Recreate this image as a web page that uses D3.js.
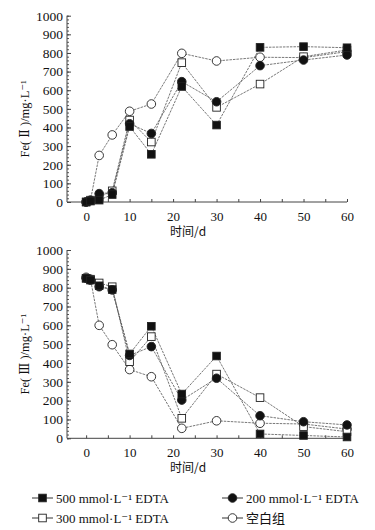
<!DOCTYPE html>
<html>
<head>
<meta charset="utf-8">
<script src="https://cdn.jsdelivr.net/npm/d3@7"></script>
<style>
  body { margin: 0; background: #fff; }
</style>
</head>
<body>
<div id="chart"></div>
<script>
// ----------------------
// Data
// ----------------------
const days = [0, 1, 3, 6, 10, 15, 22, 30, 40, 50, 60];
const seriesNames = ["500 mmol·L⁻¹ EDTA", "200 mmol·L⁻¹ EDTA", "300 mmol·L⁻¹ EDTA", "空白组"];
const seriesShapes = ["squareFilled", "circleFilled", "squareOpen", "circleOpen"];

// Fe(II)
const fe2_500 = [0, 5, 10, 40, 405, 256, 620, 413, 830, 834, 828];
const fe2_200 = [0, 8, 45, 50, 420, 368, 646, 538, 732, 762, 789];
const fe2_300 = [0, 10, 25, 60, 440, 322, 748, 508, 633, 780, 816];
const fe2_blank = [0, 10, 250, 360, 487, 526, 798, 757, 777, 775, 807];

// Fe(III)
const fe3_500 = [850, 840, 810, 790, 448, 595, 235, 437, 23, 15, 7];
const fe3_200 = [850, 840, 805, 788, 440, 487, 203, 319, 120, 88, 71];
const fe3_300 = [850, 845, 825, 805, 407, 540, 106, 341, 216, 62, 35];
const fe3_blank = [855, 845, 600, 497, 365, 327, 53, 93, 80, 76, 49];

const yTicks = [0, 100, 200, 300, 400, 500, 600, 700, 800, 900, 1000];

const SERIF = "'Liberation Serif', 'Times New Roman', 'DejaVu Serif', serif";
const CJK = "'Noto Sans CJK SC', sans-serif";

const W = 375, H = 530;
const svg = d3.select("#chart").append("svg")
    .attr("width", W).attr("height", H)
    .style("font-family", SERIF);

const xScale = d3.scaleLinear().domain([-4.4, 60]).range([67, 347]);

// ----------------------
// Marker helper
// ----------------------
function marker(g, shape, x, y) {
    if (shape === "squareFilled" || shape === "squareOpen") {
        g.append("rect")
            .attr("x", x - 3.8).attr("y", y - 3.8)
            .attr("width", 7.6).attr("height", 7.6)
            .attr("fill", shape === "squareFilled" ? "#111" : "#fff")
            .attr("stroke", "#222").attr("stroke-width", 0.9);
    } else {
        g.append("circle")
            .attr("cx", x).attr("cy", y).attr("r", 4.3)
            .attr("fill", shape === "circleFilled" ? "#111" : "#fff")
            .attr("stroke", "#222").attr("stroke-width", 0.9);
    }
}

// ----------------------
// Panel
// ----------------------
function panel(yTop, yBottom, seriesList, label) {
    const yScale = d3.scaleLinear().domain([0, 1000]).range([yBottom, yTop]);
    const g = svg.append("g");

    // axes
    const xAxis = g.append("g")
        .attr("transform", `translate(0,${yBottom})`)
        .call(d3.axisBottom(xScale)
            .tickValues(d3.range(0, 61, 5))
            .tickSize(-3)
            .tickFormat(d => d % 10 === 0 ? d : ""));
    xAxis.attr("font-family", null).attr("font-size", null);
    xAxis.select(".domain").attr("stroke", "#444").attr("d", `M67,0H347`);
    xAxis.selectAll(".tick line").attr("stroke", "#444");
    xAxis.selectAll("text").attr("fill", "#111").attr("dy", "1.2em")
        .style("font-family", SERIF).style("font-size", "13px");

    const yAxisMinor = g.append("g")
        .attr("transform", "translate(67,0)")
        .call(d3.axisLeft(yScale).tickValues(d3.range(0, 1001, 20)).tickSize(-2).tickFormat(""));
    yAxisMinor.select(".domain").remove();
    yAxisMinor.selectAll(".tick line").attr("stroke", "#555");

    const yAxis = g.append("g")
        .attr("transform", "translate(67,0)")
        .call(d3.axisLeft(yScale).tickValues(yTicks).tickSize(-4).tickPadding(4)
            .tickFormat(d3.format("d")));
    yAxis.attr("font-family", null).attr("font-size", null);
    yAxis.select(".domain").attr("stroke", "#444").attr("d", `M0,${yBottom}V${yTop}`);
    yAxis.selectAll(".tick line").attr("stroke", "#444");
    yAxis.selectAll("text").attr("fill", "#111")
        .style("font-family", SERIF).style("font-size", "13.5px");

    // y label
    g.append("text")
        .attr("transform", `translate(29,${(yTop + yBottom) / 2 + 10}) rotate(-90)`)
        .attr("text-anchor", "middle")
        .style("font-size", "12.5px")
        .style("font-family", SERIF)
        .attr("fill", "#111")
        .text(label);

    // x label
    g.append("text")
        .attr("x", 188).attr("y", yBottom + 34)
        .attr("text-anchor", "middle")
        .style("font-size", "12px")
        .style("font-family", CJK)
        .attr("fill", "#111")
        .text("时间/d");

    const line = d3.line()
        .x((d, i) => xScale(days[i]))
        .y(d => yScale(d));

    seriesList.forEach(vals => {
        g.append("path")
            .datum(vals)
            .attr("d", line)
            .attr("fill", "none")
            .attr("stroke", "#555")
            .attr("stroke-width", 0.8)
            .attr("stroke-dasharray", "2.5,1");
    });
    // draw markers last series first so filled ones sit on top
    [3, 2, 1, 0].forEach(k => {
        seriesList[k].forEach((v, i) => marker(g, seriesShapes[k], xScale(days[i]), yScale(v)));
    });
}

panel(15.7, 202, [fe2_500, fe2_200, fe2_300, fe2_blank], "Fe( Ⅱ )/mg·L⁻¹");
panel(250, 438.3, [fe3_500, fe3_200, fe3_300, fe3_blank], "Fe( Ⅲ )/mg·L⁻¹");

// ----------------------
// Legend
// ----------------------
const legendPos = [[32, 498], [222, 498], [32, 518], [222, 518]];
const legend = svg.append("g");
seriesNames.forEach((name, k) => {
    const [lx, ly] = legendPos[k];
    legend.append("line")
        .attr("x1", lx).attr("x2", lx + 21)
        .attr("y1", ly).attr("y2", ly)
        .attr("stroke", "#333").attr("stroke-width", 1);
    marker(legend, seriesShapes[k], lx + 10.5, ly);
    legend.append("text")
        .attr("x", lx + 24).attr("y", ly + 4.5)
        .style("font-size", "13px")
        .attr("fill", "#111")
        .style("font-family", k === 3 ? CJK : SERIF)
        .text(name);
});
</script>
</body>
</html>
